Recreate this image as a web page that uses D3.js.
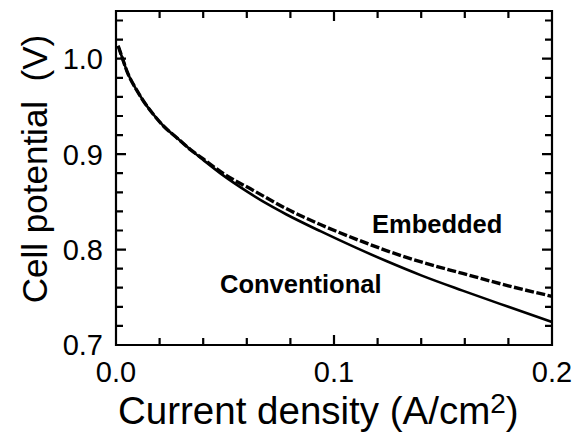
<!DOCTYPE html>
<html>
<head>
<meta charset="utf-8">
<script src="https://cdn.jsdelivr.net/npm/d3@7"></script>
<style>
    body { margin: 0; background: #fff; }
    svg { font-family: 'Liberation Sans', Arial, sans-serif; }
</style>
</head>
<body>
<svg id="chart"></svg>
<script>
// current density (A/cm2) and cell potential (V)
const conventionalX = [0.001, 0.003, 0.005, 0.0095, 0.0125, 0.017, 0.022, 0.028, 0.034, 0.040, 0.049, 0.060, 0.070, 0.078, 0.094, 0.110, 0.124, 0.140, 0.159, 0.180, 0.200];
const conventionalV = [1.0135, 1.000, 0.987, 0.967, 0.956, 0.942, 0.929, 0.917, 0.905, 0.894, 0.878, 0.861, 0.847, 0.837, 0.819, 0.802, 0.788, 0.773, 0.757, 0.740, 0.724];

const embeddedX = [0.001, 0.003, 0.005, 0.0095, 0.0125, 0.017, 0.022, 0.028, 0.034, 0.040, 0.049, 0.063, 0.078, 0.094, 0.110, 0.124, 0.140, 0.159, 0.180, 0.200];
const embeddedV = [1.0135, 1.000, 0.987, 0.967, 0.956, 0.942, 0.929, 0.917, 0.905, 0.895, 0.880, 0.862, 0.843, 0.826, 0.811, 0.799, 0.787, 0.775, 0.762, 0.751];

const xTicks = [0.0, 0.1, 0.2];
const yTicks = [0.7, 0.8, 0.9, 1.0];
const xMinor = [0, 0.02, 0.04, 0.06, 0.08, 0.1, 0.12, 0.14, 0.16, 0.18, 0.2];
const yMinor = [0.7, 0.72, 0.74, 0.76, 0.78, 0.8, 0.82, 0.84, 0.86, 0.88, 0.9, 0.92, 0.94, 0.96, 0.98, 1.0, 1.02, 1.04];

const margin = { top: 11, right: 25, bottom: 87, left: 116 },
    width = 577 - margin.left - margin.right,
    height = 432 - margin.top - margin.bottom;

const svg = d3.select('#chart').attr('width', 577).attr('height', 432);
const g = svg.append('g').attr('transform', `translate(${margin.left},${margin.top})`);

const xScale = d3.scaleLinear().domain([0, 0.2]).range([0, width]);
const yScale = d3.scaleLinear().domain([0.7, 1.05]).range([height, 0]);

// frame plus inward ticks on all four sides in one path; 0.1 steps are longer
const tickLen = (v) => (xTicks.concat(yTicks).some((t) => Math.abs(t - v) < 1e-6) ? 10 : 7);

let frame = `M0,0H${width}V${height}H0Z`;
xMinor.forEach((v) => {
    const x = xScale(v).toFixed(1);
    frame += `M${x},${height}V${height - tickLen(v)}M${x},0V${tickLen(v)}`;
});
yMinor.forEach((v) => {
    const y = yScale(v).toFixed(1);
    frame += `M0,${y}H${tickLen(v)}M${width},${y}H${width - tickLen(v)}`;
});

g.append('path')
    .attr('d', frame)
    .attr('fill', 'none').attr('stroke', '#000').attr('stroke-width', 2.2);

// tick labels
g.selectAll('.ylab').data(yTicks).join('text')
    .attr('class', 'ylab')
    .attr('x', -13)
    .attr('y', (d) => yScale(d))
    .attr('dy', '0.36em')
    .attr('text-anchor', 'end')
    .style('font-size', '29px')
    .text((d) => d3.format('.1f')(d));

g.selectAll('.xlab').data(xTicks).join('text')
    .attr('class', 'xlab')
    .attr('x', (d) => xScale(d))
    .attr('y', height + 37)
    .attr('text-anchor', 'middle')
    .style('font-size', '29px')
    .text((d) => d3.format('.1f')(d));

// axis titles
const xt = svg.append('text')
    .attr('x', 118).attr('y', 424)
    .style('font-size', '38.5px');
xt.append('tspan').text('Current density (A/cm');
xt.append('tspan').attr('dy', -11).style('font-size', '28px').text('2');
xt.append('tspan').attr('dy', 11).text(')');

svg.append('text')
    .attr('transform', 'translate(47,169) rotate(-90)')
    .attr('text-anchor', 'middle')
    .style('font-size', '35px')
    .text('Cell potential\u00a0\u00a0(V)');

// curves
const line = d3.line().x((d) => xScale(d[0])).y((d) => yScale(d[1])).curve(d3.curveMonotoneX);

g.append('path')
    .datum(d3.zip(embeddedX, embeddedV))
    .attr('fill', 'none').attr('stroke', '#000')
    .attr('stroke-width', 3.4)
    .attr('stroke-dasharray', '9,2.5')
    .attr('d', line);

g.append('path')
    .datum(d3.zip(conventionalX, conventionalV))
    .attr('fill', 'none').attr('stroke', '#000')
    .attr('stroke-width', 2.6)
    .attr('d', line);

// curve labels
svg.append('text').attr('x', 372).attr('y', 233).style('font-size', '25.5px').style('font-weight', 'bold').text('Embedded');
svg.append('text').attr('x', 220).attr('y', 293).style('font-size', '25.5px').style('font-weight', 'bold').text('Conventional');
</script>
</body>
</html>
